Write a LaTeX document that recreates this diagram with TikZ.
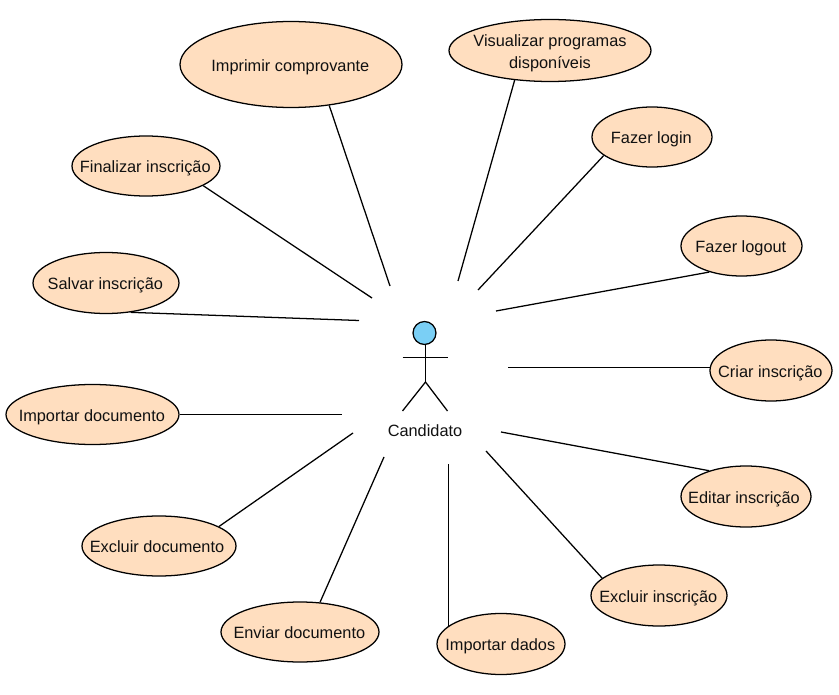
\documentclass[tikz,border=0pt]{standalone}
\usepackage{fontspec}
\setmainfont{Liberation Sans}
\usetikzlibrary{shapes.geometric}
\definecolor{ucfill}{HTML}{FFDEBF}
\definecolor{headfill}{HTML}{7ACFF5}
\definecolor{ink}{HTML}{111111}
\tikzset{
  ucshape/.style 2 args={ellipse,draw=black,line width=0.95pt,fill=ucfill,inner sep=0pt,
    minimum width=#1*1.5pt,minimum height=#2*1.5pt},
  uc/.style n args={3}{ucshape={#1}{#2},label={[ucl]center:#3}},
  ucm/.style n args={3}{ucshape={#1}{#2},label={[ucml]center:#3}},
  ucbase/.style={text=ink,font=\fontsize{12.25}{17}\selectfont,inner sep=0pt},
  ucl/.style={ucbase,text height=10.3pt,text depth=0pt,xshift=-0.5pt},
  ucml/.style={ucbase,align=center,yshift=-2.1pt},
  assoc/.style={draw=black,line width=0.95pt},
  figure/.style={draw=black,line width=0.95pt},
}
\begin{document}
\begin{tikzpicture}[x=0.75pt,y=-0.75pt]
\useasboundingbox (0,0) rectangle (839,695);
% use cases
\node[uc={111}{43}{Imprimir comprovante}] (imp) at (291,64.5) {};
\node[ucm={101}{31}{Visualizar programas\\disponíveis}] (vis) at (550,50.5) {};
\node[uc={60}{30}{Fazer login}] (login) at (652,137) {};
\node[uc={60.5}{30}{Fazer logout}] (logout) at (741.5,246) {};
\node[uc={61}{30.5}{Criar inscrição}] (criar) at (771,370.5) {};
\node[ucshape={65}{30.5},label={[ucl,xshift=-1pt]center:Editar inscrição}] (editar) at (746,496.5) {};
\node[uc={68}{30.5}{Excluir inscrição}] (exins) at (659,595.5) {};
\node[uc={64}{30.5}{Importar dados}] (impd) at (501,644) {};
\node[uc={79}{30}{Enviar documento}] (env) at (300,632) {};
\node[ucshape={77}{30},label={[ucl,xshift=-1pt]center:Excluir documento}] (exdoc) at (159,546) {};
\node[uc={86.5}{30}{Importar documento}] (impdoc) at (92.5,414.5) {};
\node[uc={73}{30.5}{Salvar inscrição}] (salvar) at (106,283) {};
\node[uc={74}{30}{Finalizar inscrição}] (fin) at (146,166) {};
% free ends of the associations
\coordinate (eimp) at (390,286);
\coordinate (evis) at (458,281);
\coordinate (elogin) at (478,290);
\coordinate (elogout) at (496,311);
\coordinate (ecriar) at (508,367.5);
\coordinate (eeditar) at (501,432);
\coordinate (eexins) at (486,451);
\coordinate (eimpd) at (448.5,464);
\coordinate (eenv) at (384,457);
\coordinate (eexdoc) at (353,433);
\coordinate (eimpdoc) at (342,414.5);
\coordinate (esalvar) at (359,320.5);
\coordinate (efin) at (372,298);
% associations
\draw[assoc] (imp.-47.9) -- (eimp);
\draw[assoc] (vis.-140) -- (evis);
\draw[assoc] (login.-159) -- (elogin);
\draw[assoc] (logout.-141) -- (elogout);
\draw[assoc] (criar.176.7 |- ecriar) -- (ecriar);
\draw[assoc] (editar.145.8) -- (eeditar);
\draw[assoc] (exins.163) -- (eexins);
\draw[assoc] (eimpd |- impd.162) -- (eimpd);
\draw[assoc] (env.56) -- (eenv);
\draw[assoc] (exdoc.18) -- (eexdoc);
\draw[assoc] (impdoc.0) -- (eimpdoc);
\draw[assoc] (salvar.-50) -- (esalvar);
\draw[assoc] (fin.-19) -- (efin);
% actor
\node[circle,figure,fill=headfill,inner sep=0pt,minimum size=17.2pt] (head) at (424.5,333) {};
\coordinate (hip) at (425.5,382);
\coordinate (armL) at (402.5,357.5);
\coordinate (armR) at (447.5,357.5);
\coordinate (footL) at (402.5,411);
\coordinate (footR) at (447.5,411);
\draw[figure] (425.5,344.5) -- (hip);
\draw[figure] (armL) -- (armR);
\draw[figure] (footL) -- (hip) -- (footR);
\node[ucbase,text height=9.5pt,text depth=2pt] (cand) at (425,431) {Candidato};
\end{tikzpicture}
\end{document}
